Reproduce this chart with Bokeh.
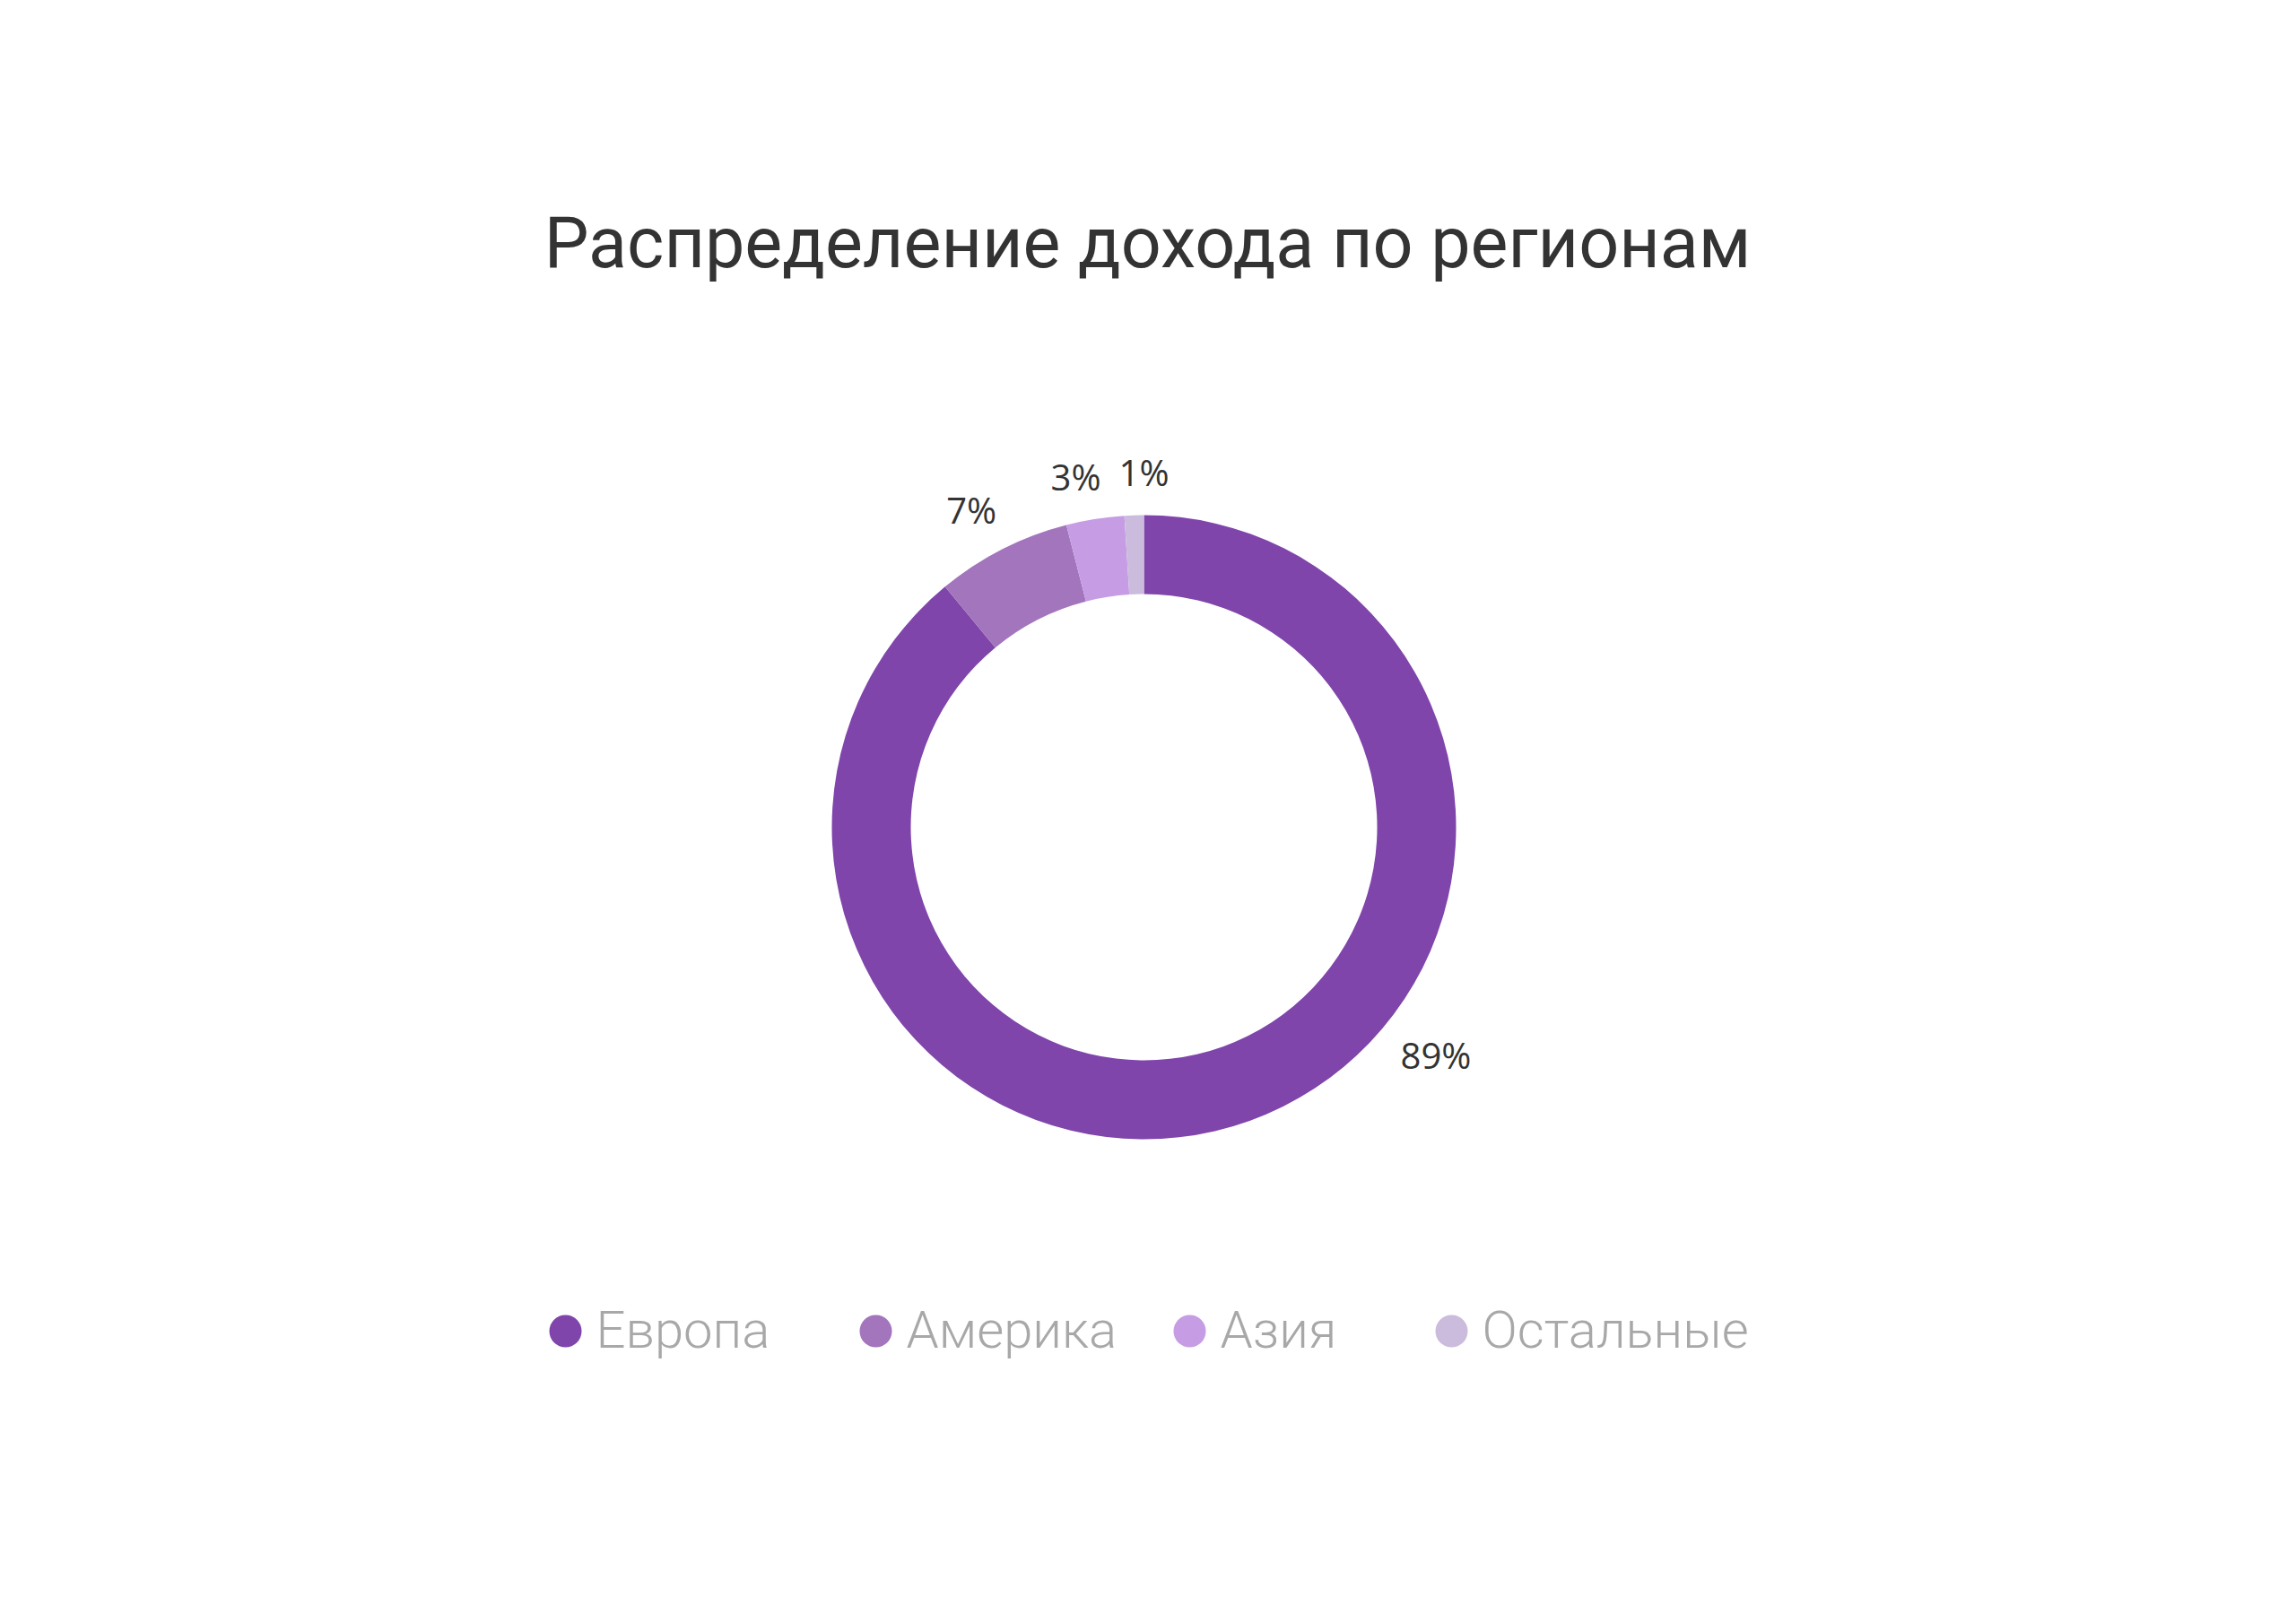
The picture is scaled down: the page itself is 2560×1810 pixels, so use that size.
import math
import numpy as np
from bokeh.plotting import figure
from bokeh.models import Range1d, ColumnDataSource
from bokeh.core.properties import value
from bokeh.embed import file_html
from bokeh.resources import INLINE

# ---- data ----
regions = ["Европа", "Америка", "Азия", "Остальные"]
shares = [89, 7, 3, 1]
colors = ["#7f45ab", "#a275bd", "#c69ce4", "#cbbcdd"]
title_text = "Распределение дохода по регионам"

# ---- layout constants (pixels) ----
W, H = 2560, 1810
cx, cy = 1275, H - 922
r_out, r_in = 348, 260
# percent-label placement around the ring (degrees, radius), spread apart as in the original
label_angle_deg = [-38, 118.5, 101, 90]
label_radius = [413, 403, 398, 396]
legend_x = [630, 976, 1326, 1618]
legend_y = H - 1484
legend_text_dx = 34

p = figure(width=W, height=H, output_backend="svg", toolbar_location=None,
           x_range=Range1d(0, W), y_range=Range1d(0, H), min_border=0)
p.axis.visible = False
p.grid.visible = False
p.outline_line_color = None
p.background_fill_color = "white"
p.border_fill_color = "white"

frac = np.array(shares, dtype=float) / sum(shares)
cum = np.concatenate([[0], np.cumsum(frac)])
starts = math.pi / 2 - 2 * math.pi * cum[:-1]
ends = math.pi / 2 - 2 * math.pi * cum[1:]
la = np.radians(label_angle_deg)
lr = np.array(label_radius, dtype=float)

src = ColumnDataSource(dict(
    x=[cx] * len(shares), y=[cy] * len(shares),
    start=starts, end=ends, color=colors, region=regions,
    lx=cx + lr * np.cos(la), ly=cy + lr * np.sin(la),
    lab=[f"{s}%" for s in shares],
))

p.annular_wedge(x="x", y="y", inner_radius=r_in, outer_radius=r_out,
                start_angle="start", end_angle="end", direction="clock",
                fill_color="color", line_color=None, source=src)

p.text(x="lx", y="ly", text="lab", source=src, text_font=value("Open Sans"),
       text_font_size="40px", text_color="#333333", text_align="center",
       text_baseline="middle")

# title
p.text(x=[1279], y=[H - 270], text=[title_text], text_font=value("Roboto"),
       text_font_size="79px", text_color="#333333", text_align="center",
       text_baseline="alphabetic")

# legend
lsrc = ColumnDataSource(dict(
    x=legend_x, y=[legend_y] * len(regions), color=colors, region=regions,
    tx=[x + legend_text_dx for x in legend_x], ty=[H - 1482] * len(regions),
))
p.scatter(x="x", y="y", size=36, marker="circle", fill_color="color",
          line_color=None, source=lsrc)
p.text(x="tx", y="ty", text="region", source=lsrc, text_font=value("Roboto Light"),
       text_font_size="58px", text_color="#a8a8a8", text_align="left",
       text_baseline="alphabetic")

open("out.html", "w").write(file_html(p, INLINE))
